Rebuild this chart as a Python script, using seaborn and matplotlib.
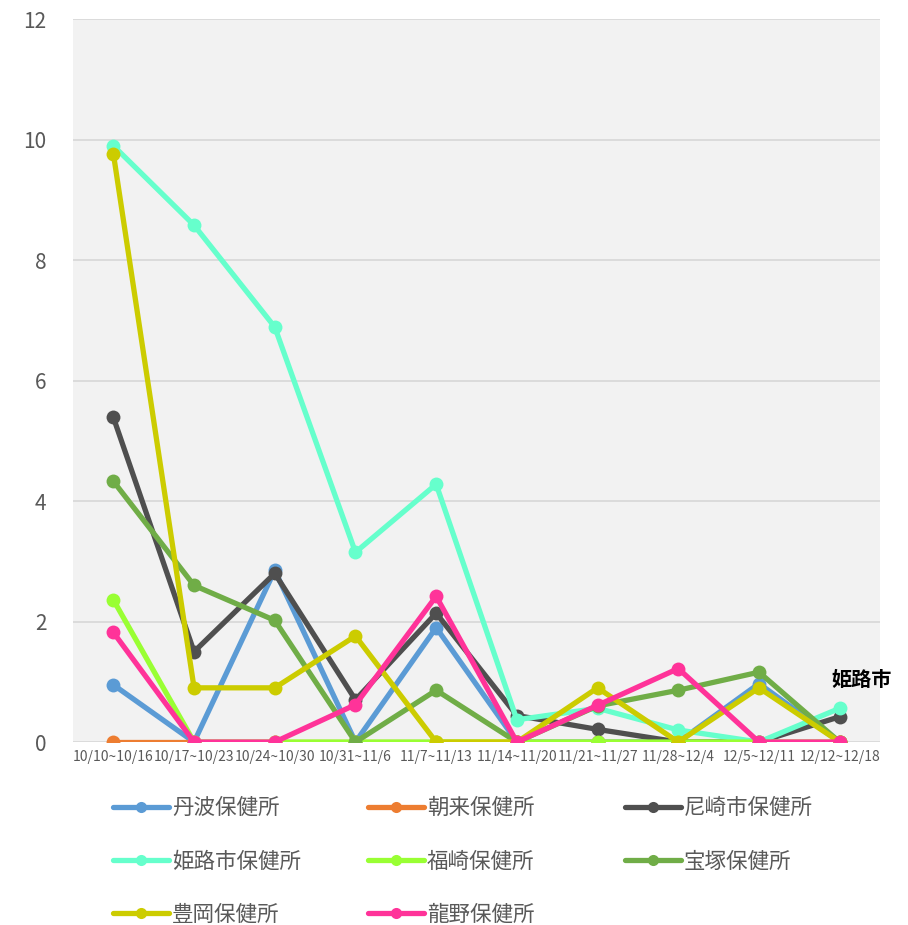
import pandas as pd
import matplotlib
matplotlib.use("Agg")
import matplotlib.pyplot as plt
from matplotlib.lines import Line2D
import seaborn as sns

# ---- data ----
weeks = ['10/10~10/16', '10/17~10/23', '10/24~10/30', '10/31~11/6', '11/7~11/13',
         '11/14~11/20', '11/21~11/27', '11/28~12/4', '12/5~12/11', '12/12~12/18']
stations = ['丹波保健所', '朝来保健所', '尼崎市保健所', '姫路市保健所',
            '福崎保健所', '宝塚保健所', '豊岡保健所', '龍野保健所']

tamba      = [0.95, 0, 2.85, 0, 1.90, 0, 0, 0, 0.97, 0]
asago      = [0, 0, 0, 0, 0, 0, 0, 0, 0, 0]
amagasaki  = [5.39, 1.50, 2.80, 0.70, 2.14, 0.44, 0.21, 0, 0, 0.42]
himeji     = [9.90, 8.58, 6.89, 3.15, 4.28, 0.37, 0.56, 0.20, 0, 0.56]
fukusaki   = [2.36, 0, 0, 0, 0, 0, 0, 0, 0, 0]
takarazuka = [4.33, 2.60, 2.02, 0, 0.86, 0, 0.60, 0.86, 1.16, 0]
toyooka    = [9.77, 0.90, 0.90, 1.76, 0, 0, 0.90, 0, 0.90, 0]
tatsuno    = [1.82, 0, 0, 0.62, 2.42, 0, 0.61, 1.22, 0, 0]

colors = ['#5B9BD5', '#ED7D31', '#4F4F4F', '#66FFCC',
          '#99FF33', '#70AD47', '#CCCC00', '#FF3399']

series = [tamba, asago, amagasaki, himeji, fukusaki, takarazuka, toyooka, tatsuno]
df = pd.DataFrame({
    'week': weeks * len(stations),
    'station': [s for s in stations for _ in weeks],
    'value': [v for vals in series for v in vals],
})

# ---- style ----
sns.set_theme(style='whitegrid', rc={
    'axes.facecolor': '#F2F2F2',
    'grid.color': '#D9D9D9',
    'grid.linewidth': 1.3,
})
plt.rcParams['font.family'] = ['Noto Sans CJK JP', 'DejaVu Sans']

fig = plt.figure(figsize=(9.08, 9.25), dpi=100)
ax = fig.add_axes([0.0804, 0.1978, 0.8888, 0.7814])

palette = dict(zip(stations, colors))
sns.lineplot(data=df, x='week', y='value', hue='station', hue_order=stations,
             palette=palette, marker='o', markersize=10, markeredgewidth=0,
             linewidth=3.8, sort=False, legend=False, ax=ax)

ax.set_ylim(0, 12)
ax.set_xlim(-0.5, len(weeks) - 0.5)
ax.set_yticks(range(0, 13, 2))
ax.grid(axis='x', visible=False)
ax.set_xlabel('')
ax.set_ylabel('')
for s in ax.spines.values():
    s.set_visible(False)
ax.tick_params(axis='y', length=0, pad=19, labelsize=15, labelcolor='#595959')
ax.tick_params(axis='x', length=0, pad=6, labelsize=10, labelcolor='#595959')

# data label at the last point of 姫路市
ax.annotate('姫路市', xy=(len(weeks) - 1, himeji[-1]), xytext=(16, 21),
            textcoords='offset points', ha='center', va='center',
            fontsize=14.5, fontweight='bold', color='black')

# ---- legend: three columns of equal width ----
handles = [Line2D([], [], color=c, linewidth=3.8, marker='o', markersize=8,
                  markeredgewidth=0) for c in colors]
columns = [[0, 3, 6], [1, 4, 7], [2, 5]]
col_x = [0.124, 0.405, 0.688]
for x, idx in zip(col_x, columns):
    fig.legend([handles[i] for i in idx], [stations[i] for i in idx],
               loc='upper left', bbox_to_anchor=(x, 0.138), frameon=False,
               fontsize=15.5, labelcolor='#595959', handlelength=2.6,
               handletextpad=0.15, labelspacing=1.45, borderaxespad=0,
               borderpad=0)

fig.savefig('out.png', dpi=100, facecolor='white')
